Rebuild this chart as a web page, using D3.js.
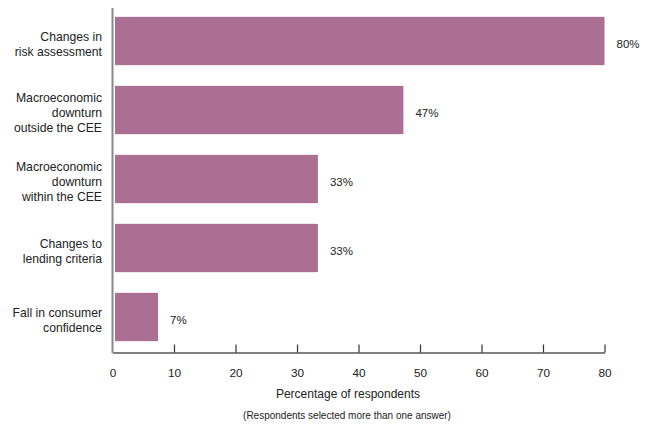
<!DOCTYPE html>
<html><head><meta charset="utf-8">
<script src="https://cdn.jsdelivr.net/npm/d3@7"></script>
<style>
html,body{margin:0;padding:0;background:#fff;}
text{font-family:"Liberation Sans",Arial,Helvetica,sans-serif;fill:#222;}
</style></head>
<body><svg id="c" width="656" height="428"></svg>
<script>
const categories = [
  ["Changes in","risk assessment"],
  ["Macroeconomic","downturn","outside the CEE"],
  ["Macroeconomic","downturn","within the CEE"],
  ["Changes to","lending criteria"],
  ["Fall in consumer","confidence"]
];
const values = [80, 47.3, 33.4, 33.4, 7.4];
const valueLabels = ["80%","47%","33%","33%","7%"];
const xTicks = [0,10,20,30,40,50,60,70,80];
const xTitle = "Percentage of respondents";
const note = "(Respondents selected more than one answer)";

const svg = d3.select("#c");
const x = d3.scaleLinear().domain([0,80]).range([112.5,604.5]);
const y = d3.scaleBand().domain(d3.range(categories.length)).range([6.5,351.5]).paddingInner(0.3).paddingOuter(0.15);
const barColor = "#ab6f93";

// bars
svg.append("g").selectAll("rect").data(values).join("rect")
  .attr("x", x(0)+2.5)
  .attr("y", (d,i)=>y(i))
  .attr("width", d=>x(d)-x(0)-2.5)
  .attr("height", y.bandwidth())
  .attr("fill", barColor);

// value labels
svg.append("g").selectAll("text").data(values).join("text")
  .attr("x", d=>x(d)+12)
  .attr("y", (d,i)=>y(i)+y.bandwidth()/2+3)
  .attr("dy","0.35em")
  .attr("font-size","11.5px")
  .text((d,i)=>valueLabels[i]);

// category labels
const cg = svg.append("g");
categories.forEach((lines,i)=>{
  const cy = y(i)+y.bandwidth()/2+3;
  const lh = 15;
  const t = cg.append("text").attr("text-anchor","end").attr("font-size","12.2px");
  lines.forEach((ln,j)=>{
    t.append("tspan").attr("x",102)
     .attr("y", cy + (j-(lines.length-1)/2)*lh)
     .attr("dy","0.35em").text(ln);
  });
});

// x axis
const xa = svg.append("g").attr("transform","translate(0,352.5)")
  .call(d3.axisBottom(x).tickValues(xTicks).tickSize(0).tickPadding(0).tickFormat(""));
xa.select(".domain").attr("stroke","#555").attr("stroke-width",1.5);
xa.selectAll(".tick line").remove();
xa.selectAll(".tick").filter(d=>d!==0).append("line")
  .attr("y1",0).attr("y2",-8).attr("stroke","#333").attr("stroke-width",1.2);
xa.selectAll(".tick").append("text")
  .attr("y",20).attr("dy","0.35em").attr("text-anchor","middle")
  .attr("font-size","11.8px").attr("fill","#222").text(d=>d);

// y axis line
svg.append("line").attr("x1",x(0)).attr("x2",x(0)).attr("y1",8).attr("y2",353)
  .attr("stroke","#888").attr("stroke-width",2);

svg.append("text").attr("x",348).attr("y",394).attr("dy","0.35em")
  .attr("text-anchor","middle").attr("font-size","12px").text(xTitle);
svg.append("text").attr("x",347).attr("y",415.5).attr("dy","0.35em")
  .attr("text-anchor","middle").attr("font-size","10px").text(note);
</script></body></html>
